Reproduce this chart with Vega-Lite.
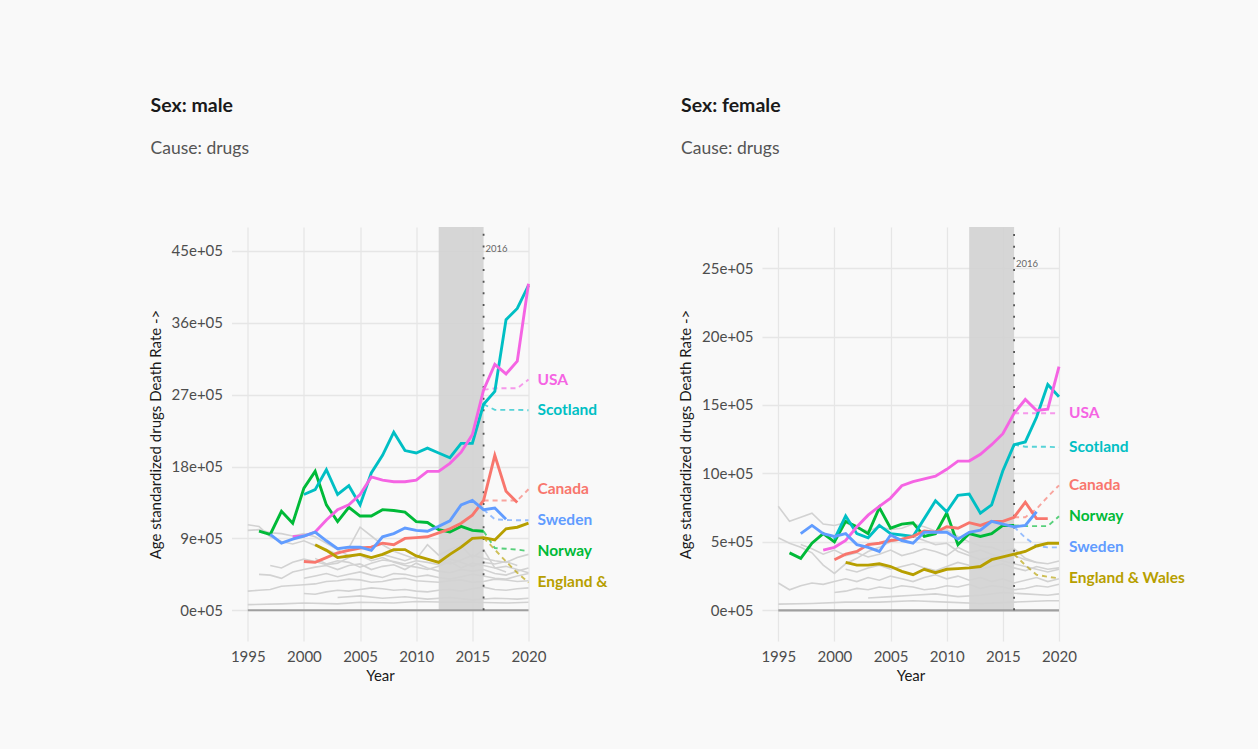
{
  "$schema": "https://vega.github.io/schema/vega-lite/v6.json",
  "background": "#f9f9f9",
  "padding": {"left": 147.5, "top": 95, "right": 78, "bottom": 70},
  "bounds": "flush",
  "spacing": 233.5,
  "config": {
    "font": "Lato",
    "view": {"stroke": null},
    "title": {"anchor": "start", "frame": "bounds", "fontSize": 19.5, "fontWeight": "bold", "color": "#1a1a1a", "subtitleFontSize": 17.5, "subtitleColor": "#555555", "subtitlePadding": 23.5, "offset": 68, "dx": 2.5},
    "axis": {"grid": true, "gridColor": "#e6e6e6", "gridWidth": 1.3, "domain": false, "ticks": false, "labelFlush": false, "labelFontSize": 15, "labelColor": "#4d4d4d", "titleFontSize": 15, "titleFontWeight": "normal", "titleColor": "#1a1a1a"}
  },
  "datasets": {
    "band": [
      {"sex": "male", "year": 2012, "year_end": 2016, "rate": 0, "rate_top": 4800000},
      {"sex": "female", "year": 2012, "year_end": 2016, "rate": 0, "rate_top": 2800000}
    ],
    "marker": [
      {"sex": "male", "year": 2016, "rate": 0, "rate_top": 4800000, "note": "2016", "note_rate": 4530000},
      {"sex": "female", "year": 2016, "rate": 0, "rate_top": 2800000, "note": "2016", "note_rate": 2530000}
    ],
    "baseline": [
      {"sex": "male", "year": 1995, "rate": 0}, {"sex": "male", "year": 2020, "rate": 0},
      {"sex": "female", "year": 1995, "rate": 0}, {"sex": "female", "year": 2020, "rate": 0}
    ],
    "others": [
      {"sex":"male","group":"g1","year":1995,"rate":1070000},{"sex":"male","group":"g1","year":1996,"rate":1050000},{"sex":"male","group":"g1","year":1997,"rate":920000},{"sex":"male","group":"g1","year":1998,"rate":860000},{"sex":"male","group":"g1","year":1999,"rate":830000},{"sex":"male","group":"g1","year":2000,"rate":870000},{"sex":"male","group":"g1","year":2001,"rate":810000},{"sex":"male","group":"g1","year":2002,"rate":760000},{"sex":"male","group":"g1","year":2003,"rate":700000},{"sex":"male","group":"g1","year":2004,"rate":780000},{"sex":"male","group":"g1","year":2005,"rate":1040000},{"sex":"male","group":"g1","year":2006,"rate":930000},{"sex":"male","group":"g1","year":2007,"rate":820000},{"sex":"male","group":"g1","year":2008,"rate":740000},{"sex":"male","group":"g1","year":2009,"rate":690000},{"sex":"male","group":"g1","year":2010,"rate":640000},{"sex":"male","group":"g1","year":2011,"rate":820000},{"sex":"male","group":"g1","year":2012,"rate":690000},{"sex":"male","group":"g1","year":2013,"rate":760000},{"sex":"male","group":"g1","year":2014,"rate":810000},{"sex":"male","group":"g1","year":2015,"rate":660000},{"sex":"male","group":"g1","year":2016,"rate":760000},{"sex":"male","group":"g1","year":2017,"rate":530000},{"sex":"male","group":"g1","year":2018,"rate":480000},
      {"sex":"male","group":"g2","year":1995,"rate":1000000},{"sex":"male","group":"g2","year":1996,"rate":1010000},{"sex":"male","group":"g2","year":1997,"rate":970000},{"sex":"male","group":"g2","year":1998,"rate":960000},{"sex":"male","group":"g2","year":1999,"rate":930000},{"sex":"male","group":"g2","year":2000,"rate":960000},{"sex":"male","group":"g2","year":2001,"rate":920000},{"sex":"male","group":"g2","year":2002,"rate":840000},{"sex":"male","group":"g2","year":2003,"rate":760000},{"sex":"male","group":"g2","year":2004,"rate":680000},{"sex":"male","group":"g2","year":2005,"rate":690000},{"sex":"male","group":"g2","year":2006,"rate":620000},{"sex":"male","group":"g2","year":2007,"rate":660000},{"sex":"male","group":"g2","year":2008,"rate":600000},{"sex":"male","group":"g2","year":2009,"rate":560000},{"sex":"male","group":"g2","year":2010,"rate":540000},{"sex":"male","group":"g2","year":2011,"rate":510000},{"sex":"male","group":"g2","year":2012,"rate":550000},{"sex":"male","group":"g2","year":2013,"rate":610000},{"sex":"male","group":"g2","year":2014,"rate":530000},{"sex":"male","group":"g2","year":2015,"rate":590000},{"sex":"male","group":"g2","year":2016,"rate":560000},{"sex":"male","group":"g2","year":2017,"rate":530000},{"sex":"male","group":"g2","year":2018,"rate":550000},{"sex":"male","group":"g2","year":2019,"rate":510000},{"sex":"male","group":"g2","year":2020,"rate":470000},
      {"sex":"male","group":"g3","year":1996,"rate":450000},{"sex":"male","group":"g3","year":1997,"rate":440000},{"sex":"male","group":"g3","year":1998,"rate":400000},{"sex":"male","group":"g3","year":1999,"rate":480000},{"sex":"male","group":"g3","year":2000,"rate":510000},{"sex":"male","group":"g3","year":2001,"rate":540000},{"sex":"male","group":"g3","year":2002,"rate":560000},{"sex":"male","group":"g3","year":2003,"rate":510000},{"sex":"male","group":"g3","year":2004,"rate":560000},{"sex":"male","group":"g3","year":2005,"rate":580000},{"sex":"male","group":"g3","year":2006,"rate":510000},{"sex":"male","group":"g3","year":2007,"rate":550000},{"sex":"male","group":"g3","year":2008,"rate":570000},{"sex":"male","group":"g3","year":2009,"rate":510000},{"sex":"male","group":"g3","year":2010,"rate":590000},{"sex":"male","group":"g3","year":2011,"rate":530000},{"sex":"male","group":"g3","year":2012,"rate":490000},{"sex":"male","group":"g3","year":2013,"rate":470000},{"sex":"male","group":"g3","year":2014,"rate":510000},{"sex":"male","group":"g3","year":2015,"rate":490000},{"sex":"male","group":"g3","year":2016,"rate":510000},{"sex":"male","group":"g3","year":2017,"rate":460000},{"sex":"male","group":"g3","year":2018,"rate":440000},{"sex":"male","group":"g3","year":2019,"rate":490000},{"sex":"male","group":"g3","year":2020,"rate":530000},
      {"sex":"male","group":"g4","year":1995,"rate":240000},{"sex":"male","group":"g4","year":1996,"rate":250000},{"sex":"male","group":"g4","year":1997,"rate":260000},{"sex":"male","group":"g4","year":1998,"rate":300000},{"sex":"male","group":"g4","year":1999,"rate":310000},{"sex":"male","group":"g4","year":2000,"rate":320000},{"sex":"male","group":"g4","year":2001,"rate":330000},{"sex":"male","group":"g4","year":2002,"rate":360000},{"sex":"male","group":"g4","year":2003,"rate":370000},{"sex":"male","group":"g4","year":2004,"rate":390000},{"sex":"male","group":"g4","year":2005,"rate":380000},{"sex":"male","group":"g4","year":2006,"rate":350000},{"sex":"male","group":"g4","year":2007,"rate":360000},{"sex":"male","group":"g4","year":2008,"rate":390000},{"sex":"male","group":"g4","year":2009,"rate":400000},{"sex":"male","group":"g4","year":2010,"rate":370000},{"sex":"male","group":"g4","year":2011,"rate":360000},{"sex":"male","group":"g4","year":2012,"rate":350000},{"sex":"male","group":"g4","year":2013,"rate":370000},{"sex":"male","group":"g4","year":2014,"rate":380000},{"sex":"male","group":"g4","year":2015,"rate":350000},{"sex":"male","group":"g4","year":2016,"rate":360000},{"sex":"male","group":"g4","year":2017,"rate":390000},{"sex":"male","group":"g4","year":2018,"rate":380000},{"sex":"male","group":"g4","year":2019,"rate":360000},{"sex":"male","group":"g4","year":2020,"rate":370000},
      {"sex":"male","group":"g5","year":1995,"rate":70000},{"sex":"male","group":"g5","year":1998,"rate":80000},{"sex":"male","group":"g5","year":2000,"rate":90000},{"sex":"male","group":"g5","year":2003,"rate":80000},{"sex":"male","group":"g5","year":2005,"rate":100000},{"sex":"male","group":"g5","year":2008,"rate":90000},{"sex":"male","group":"g5","year":2010,"rate":110000},{"sex":"male","group":"g5","year":2013,"rate":100000},{"sex":"male","group":"g5","year":2015,"rate":100000},{"sex":"male","group":"g5","year":2018,"rate":90000},{"sex":"male","group":"g5","year":2020,"rate":100000},
      {"sex":"male","group":"g6","year":2000,"rate":210000},{"sex":"male","group":"g6","year":2001,"rate":200000},{"sex":"male","group":"g6","year":2002,"rate":230000},{"sex":"male","group":"g6","year":2003,"rate":250000},{"sex":"male","group":"g6","year":2004,"rate":240000},{"sex":"male","group":"g6","year":2005,"rate":260000},{"sex":"male","group":"g6","year":2006,"rate":280000},{"sex":"male","group":"g6","year":2007,"rate":270000},{"sex":"male","group":"g6","year":2008,"rate":250000},{"sex":"male","group":"g6","year":2009,"rate":260000},{"sex":"male","group":"g6","year":2010,"rate":240000},{"sex":"male","group":"g6","year":2011,"rate":230000},{"sex":"male","group":"g6","year":2012,"rate":250000},{"sex":"male","group":"g6","year":2013,"rate":260000},{"sex":"male","group":"g6","year":2014,"rate":240000},{"sex":"male","group":"g6","year":2015,"rate":270000},{"sex":"male","group":"g6","year":2016,"rate":290000},{"sex":"male","group":"g6","year":2017,"rate":260000},{"sex":"male","group":"g6","year":2018,"rate":250000},{"sex":"male","group":"g6","year":2019,"rate":270000},{"sex":"male","group":"g6","year":2020,"rate":280000},
      {"sex":"male","group":"g7","year":2000,"rate":400000},{"sex":"male","group":"g7","year":2001,"rate":430000},{"sex":"male","group":"g7","year":2002,"rate":460000},{"sex":"male","group":"g7","year":2003,"rate":420000},{"sex":"male","group":"g7","year":2004,"rate":450000},{"sex":"male","group":"g7","year":2005,"rate":480000},{"sex":"male","group":"g7","year":2006,"rate":440000},{"sex":"male","group":"g7","year":2007,"rate":410000},{"sex":"male","group":"g7","year":2008,"rate":460000},{"sex":"male","group":"g7","year":2009,"rate":450000},{"sex":"male","group":"g7","year":2010,"rate":420000},{"sex":"male","group":"g7","year":2011,"rate":440000},{"sex":"male","group":"g7","year":2012,"rate":410000},{"sex":"male","group":"g7","year":2013,"rate":390000},{"sex":"male","group":"g7","year":2014,"rate":420000},{"sex":"male","group":"g7","year":2015,"rate":450000},{"sex":"male","group":"g7","year":2016,"rate":430000},{"sex":"male","group":"g7","year":2017,"rate":400000},{"sex":"male","group":"g7","year":2018,"rate":390000},{"sex":"male","group":"g7","year":2019,"rate":430000},{"sex":"male","group":"g7","year":2020,"rate":460000},
      {"sex":"male","group":"g8","year":2001,"rate":650000},{"sex":"male","group":"g8","year":2002,"rate":580000},{"sex":"male","group":"g8","year":2003,"rate":620000},{"sex":"male","group":"g8","year":2004,"rate":600000},{"sex":"male","group":"g8","year":2005,"rate":540000},{"sex":"male","group":"g8","year":2006,"rate":590000},{"sex":"male","group":"g8","year":2007,"rate":630000},{"sex":"male","group":"g8","year":2008,"rate":610000},{"sex":"male","group":"g8","year":2009,"rate":580000},{"sex":"male","group":"g8","year":2010,"rate":620000},{"sex":"male","group":"g8","year":2011,"rate":600000},{"sex":"male","group":"g8","year":2012,"rate":570000},{"sex":"male","group":"g8","year":2013,"rate":640000},{"sex":"male","group":"g8","year":2014,"rate":600000},{"sex":"male","group":"g8","year":2015,"rate":550000},{"sex":"male","group":"g8","year":2016,"rate":600000},{"sex":"male","group":"g8","year":2017,"rate":580000},{"sex":"male","group":"g8","year":2018,"rate":610000},{"sex":"male","group":"g8","year":2019,"rate":560000},
      {"sex":"male","group":"g9","year":2003,"rate":160000},{"sex":"male","group":"g9","year":2005,"rate":180000},{"sex":"male","group":"g9","year":2007,"rate":150000},{"sex":"male","group":"g9","year":2009,"rate":170000},{"sex":"male","group":"g9","year":2011,"rate":140000},{"sex":"male","group":"g9","year":2013,"rate":160000},{"sex":"male","group":"g9","year":2015,"rate":130000},{"sex":"male","group":"g9","year":2017,"rate":150000},{"sex":"male","group":"g9","year":2019,"rate":140000},{"sex":"male","group":"g9","year":2020,"rate":150000},
      {"sex":"male","group":"g10","year":1997,"rate":560000},{"sex":"male","group":"g10","year":1998,"rate":530000},{"sex":"male","group":"g10","year":1999,"rate":600000},{"sex":"male","group":"g10","year":2000,"rate":640000},{"sex":"male","group":"g10","year":2001,"rate":610000},{"sex":"male","group":"g10","year":2002,"rate":570000},{"sex":"male","group":"g10","year":2003,"rate":590000},{"sex":"male","group":"g10","year":2004,"rate":660000},{"sex":"male","group":"g10","year":2005,"rate":710000},{"sex":"male","group":"g10","year":2006,"rate":650000},{"sex":"male","group":"g10","year":2007,"rate":700000},{"sex":"male","group":"g10","year":2008,"rate":660000},{"sex":"male","group":"g10","year":2009,"rate":620000},{"sex":"male","group":"g10","year":2010,"rate":670000},{"sex":"male","group":"g10","year":2011,"rate":640000},{"sex":"male","group":"g10","year":2012,"rate":610000},{"sex":"male","group":"g10","year":2013,"rate":580000},{"sex":"male","group":"g10","year":2014,"rate":630000},{"sex":"male","group":"g10","year":2015,"rate":690000},{"sex":"male","group":"g10","year":2016,"rate":650000},{"sex":"male","group":"g10","year":2017,"rate":620000},{"sex":"male","group":"g10","year":2018,"rate":600000},{"sex":"male","group":"g10","year":2019,"rate":660000},{"sex":"male","group":"g10","year":2020,"rate":700000},
      {"sex":"female","group":"g1","year":1995,"rate":760000},{"sex":"female","group":"g1","year":1996,"rate":650000},{"sex":"female","group":"g1","year":1997,"rate":680000},{"sex":"female","group":"g1","year":1998,"rate":710000},{"sex":"female","group":"g1","year":1999,"rate":630000},{"sex":"female","group":"g1","year":2000,"rate":620000},{"sex":"female","group":"g1","year":2001,"rate":640000},{"sex":"female","group":"g1","year":2002,"rate":600000},{"sex":"female","group":"g1","year":2003,"rate":580000},{"sex":"female","group":"g1","year":2004,"rate":610000},{"sex":"female","group":"g1","year":2005,"rate":590000},{"sex":"female","group":"g1","year":2006,"rate":600000},{"sex":"female","group":"g1","year":2007,"rate":630000},{"sex":"female","group":"g1","year":2008,"rate":610000},{"sex":"female","group":"g1","year":2009,"rate":580000},{"sex":"female","group":"g1","year":2010,"rate":590000},{"sex":"female","group":"g1","year":2011,"rate":540000},{"sex":"female","group":"g1","year":2012,"rate":500000},{"sex":"female","group":"g1","year":2013,"rate":470000},{"sex":"female","group":"g1","year":2014,"rate":460000},{"sex":"female","group":"g1","year":2015,"rate":430000},{"sex":"female","group":"g1","year":2016,"rate":450000},{"sex":"female","group":"g1","year":2017,"rate":380000},{"sex":"female","group":"g1","year":2018,"rate":350000},
      {"sex":"female","group":"g2","year":1995,"rate":530000},{"sex":"female","group":"g2","year":1996,"rate":490000},{"sex":"female","group":"g2","year":1997,"rate":460000},{"sex":"female","group":"g2","year":1998,"rate":420000},{"sex":"female","group":"g2","year":1999,"rate":330000},{"sex":"female","group":"g2","year":2000,"rate":270000},{"sex":"female","group":"g2","year":2001,"rate":340000},{"sex":"female","group":"g2","year":2002,"rate":380000},{"sex":"female","group":"g2","year":2003,"rate":430000},{"sex":"female","group":"g2","year":2004,"rate":460000},{"sex":"female","group":"g2","year":2005,"rate":500000},{"sex":"female","group":"g2","year":2006,"rate":520000},{"sex":"female","group":"g2","year":2007,"rate":540000},{"sex":"female","group":"g2","year":2008,"rate":510000},{"sex":"female","group":"g2","year":2009,"rate":480000},{"sex":"female","group":"g2","year":2010,"rate":490000},{"sex":"female","group":"g2","year":2011,"rate":430000},{"sex":"female","group":"g2","year":2012,"rate":400000},{"sex":"female","group":"g2","year":2013,"rate":370000},{"sex":"female","group":"g2","year":2014,"rate":390000},{"sex":"female","group":"g2","year":2015,"rate":360000},{"sex":"female","group":"g2","year":2016,"rate":340000},{"sex":"female","group":"g2","year":2017,"rate":320000},{"sex":"female","group":"g2","year":2018,"rate":300000},{"sex":"female","group":"g2","year":2019,"rate":280000},{"sex":"female","group":"g2","year":2020,"rate":300000},
      {"sex":"female","group":"g3","year":1995,"rate":200000},{"sex":"female","group":"g3","year":1996,"rate":150000},{"sex":"female","group":"g3","year":1997,"rate":180000},{"sex":"female","group":"g3","year":1998,"rate":200000},{"sex":"female","group":"g3","year":1999,"rate":190000},{"sex":"female","group":"g3","year":2000,"rate":210000},{"sex":"female","group":"g3","year":2001,"rate":230000},{"sex":"female","group":"g3","year":2002,"rate":210000},{"sex":"female","group":"g3","year":2003,"rate":240000},{"sex":"female","group":"g3","year":2004,"rate":220000},{"sex":"female","group":"g3","year":2005,"rate":250000},{"sex":"female","group":"g3","year":2006,"rate":230000},{"sex":"female","group":"g3","year":2007,"rate":210000},{"sex":"female","group":"g3","year":2008,"rate":240000},{"sex":"female","group":"g3","year":2009,"rate":260000},{"sex":"female","group":"g3","year":2010,"rate":230000},{"sex":"female","group":"g3","year":2011,"rate":250000},{"sex":"female","group":"g3","year":2012,"rate":220000},{"sex":"female","group":"g3","year":2013,"rate":240000},{"sex":"female","group":"g3","year":2014,"rate":210000},{"sex":"female","group":"g3","year":2015,"rate":230000},{"sex":"female","group":"g3","year":2016,"rate":200000},{"sex":"female","group":"g3","year":2017,"rate":220000},{"sex":"female","group":"g3","year":2018,"rate":240000},{"sex":"female","group":"g3","year":2019,"rate":210000},{"sex":"female","group":"g3","year":2020,"rate":230000},
      {"sex":"female","group":"g4","year":1995,"rate":45000},{"sex":"female","group":"g4","year":1998,"rate":50000},{"sex":"female","group":"g4","year":2001,"rate":60000},{"sex":"female","group":"g4","year":2004,"rate":60000},{"sex":"female","group":"g4","year":2007,"rate":70000},{"sex":"female","group":"g4","year":2010,"rate":60000},{"sex":"female","group":"g4","year":2013,"rate":50000},{"sex":"female","group":"g4","year":2016,"rate":60000},{"sex":"female","group":"g4","year":2019,"rate":70000},{"sex":"female","group":"g4","year":2020,"rate":70000},
      {"sex":"female","group":"g5","year":1997,"rate":480000},{"sex":"female","group":"g5","year":1998,"rate":450000},{"sex":"female","group":"g5","year":1999,"rate":410000},{"sex":"female","group":"g5","year":2000,"rate":440000},{"sex":"female","group":"g5","year":2001,"rate":400000},{"sex":"female","group":"g5","year":2002,"rate":420000},{"sex":"female","group":"g5","year":2003,"rate":390000},{"sex":"female","group":"g5","year":2004,"rate":410000},{"sex":"female","group":"g5","year":2005,"rate":440000},{"sex":"female","group":"g5","year":2006,"rate":400000},{"sex":"female","group":"g5","year":2007,"rate":420000},{"sex":"female","group":"g5","year":2008,"rate":450000},{"sex":"female","group":"g5","year":2009,"rate":430000},{"sex":"female","group":"g5","year":2010,"rate":400000},{"sex":"female","group":"g5","year":2011,"rate":460000},{"sex":"female","group":"g5","year":2012,"rate":420000},{"sex":"female","group":"g5","year":2013,"rate":440000},{"sex":"female","group":"g5","year":2014,"rate":410000},{"sex":"female","group":"g5","year":2015,"rate":380000},{"sex":"female","group":"g5","year":2016,"rate":400000},{"sex":"female","group":"g5","year":2017,"rate":370000},{"sex":"female","group":"g5","year":2018,"rate":350000},{"sex":"female","group":"g5","year":2019,"rate":340000},{"sex":"female","group":"g5","year":2020,"rate":360000},
      {"sex":"female","group":"g6","year":2000,"rate":130000},{"sex":"female","group":"g6","year":2001,"rate":140000},{"sex":"female","group":"g6","year":2002,"rate":160000},{"sex":"female","group":"g6","year":2003,"rate":150000},{"sex":"female","group":"g6","year":2004,"rate":170000},{"sex":"female","group":"g6","year":2005,"rate":160000},{"sex":"female","group":"g6","year":2006,"rate":180000},{"sex":"female","group":"g6","year":2007,"rate":170000},{"sex":"female","group":"g6","year":2008,"rate":150000},{"sex":"female","group":"g6","year":2009,"rate":160000},{"sex":"female","group":"g6","year":2010,"rate":180000},{"sex":"female","group":"g6","year":2011,"rate":170000},{"sex":"female","group":"g6","year":2012,"rate":190000},{"sex":"female","group":"g6","year":2013,"rate":160000},{"sex":"female","group":"g6","year":2014,"rate":180000},{"sex":"female","group":"g6","year":2015,"rate":170000},{"sex":"female","group":"g6","year":2016,"rate":150000},{"sex":"female","group":"g6","year":2017,"rate":160000},{"sex":"female","group":"g6","year":2018,"rate":180000},{"sex":"female","group":"g6","year":2019,"rate":170000},{"sex":"female","group":"g6","year":2020,"rate":190000},
      {"sex":"female","group":"g7","year":2001,"rate":300000},{"sex":"female","group":"g7","year":2002,"rate":280000},{"sex":"female","group":"g7","year":2003,"rate":310000},{"sex":"female","group":"g7","year":2004,"rate":330000},{"sex":"female","group":"g7","year":2005,"rate":300000},{"sex":"female","group":"g7","year":2006,"rate":320000},{"sex":"female","group":"g7","year":2007,"rate":340000},{"sex":"female","group":"g7","year":2008,"rate":310000},{"sex":"female","group":"g7","year":2009,"rate":290000},{"sex":"female","group":"g7","year":2010,"rate":320000},{"sex":"female","group":"g7","year":2011,"rate":350000},{"sex":"female","group":"g7","year":2012,"rate":330000},{"sex":"female","group":"g7","year":2013,"rate":300000},{"sex":"female","group":"g7","year":2014,"rate":320000},{"sex":"female","group":"g7","year":2015,"rate":340000},{"sex":"female","group":"g7","year":2016,"rate":310000},{"sex":"female","group":"g7","year":2017,"rate":290000},{"sex":"female","group":"g7","year":2018,"rate":320000},{"sex":"female","group":"g7","year":2019,"rate":300000},{"sex":"female","group":"g7","year":2020,"rate":310000},
      {"sex":"female","group":"g8","year":2003,"rate":90000},{"sex":"female","group":"g8","year":2005,"rate":100000},{"sex":"female","group":"g8","year":2007,"rate":110000},{"sex":"female","group":"g8","year":2009,"rate":120000},{"sex":"female","group":"g8","year":2011,"rate":100000},{"sex":"female","group":"g8","year":2013,"rate":110000},{"sex":"female","group":"g8","year":2015,"rate":130000},{"sex":"female","group":"g8","year":2017,"rate":120000},{"sex":"female","group":"g8","year":2019,"rate":110000},{"sex":"female","group":"g8","year":2020,"rate":120000}
    ],
    "rates": [
      {"sex":"male","country":"Norway","year":1996,"rate":990000},{"sex":"male","country":"Norway","year":1997,"rate":950000},{"sex":"male","country":"Norway","year":1998,"rate":1240000},{"sex":"male","country":"Norway","year":1999,"rate":1090000},{"sex":"male","country":"Norway","year":2000,"rate":1530000},{"sex":"male","country":"Norway","year":2001,"rate":1740000},{"sex":"male","country":"Norway","year":2002,"rate":1320000},{"sex":"male","country":"Norway","year":2003,"rate":1110000},{"sex":"male","country":"Norway","year":2004,"rate":1290000},{"sex":"male","country":"Norway","year":2005,"rate":1180000},{"sex":"male","country":"Norway","year":2006,"rate":1180000},{"sex":"male","country":"Norway","year":2007,"rate":1260000},{"sex":"male","country":"Norway","year":2008,"rate":1250000},{"sex":"male","country":"Norway","year":2009,"rate":1230000},{"sex":"male","country":"Norway","year":2010,"rate":1110000},{"sex":"male","country":"Norway","year":2011,"rate":1100000},{"sex":"male","country":"Norway","year":2012,"rate":1010000},{"sex":"male","country":"Norway","year":2013,"rate":980000},{"sex":"male","country":"Norway","year":2014,"rate":1050000},{"sex":"male","country":"Norway","year":2015,"rate":1000000},{"sex":"male","country":"Norway","year":2016,"rate":990000},
      {"sex":"male","country":"Scotland","year":2000,"rate":1450000},{"sex":"male","country":"Scotland","year":2001,"rate":1510000},{"sex":"male","country":"Scotland","year":2002,"rate":1760000},{"sex":"male","country":"Scotland","year":2003,"rate":1450000},{"sex":"male","country":"Scotland","year":2004,"rate":1560000},{"sex":"male","country":"Scotland","year":2005,"rate":1320000},{"sex":"male","country":"Scotland","year":2006,"rate":1720000},{"sex":"male","country":"Scotland","year":2007,"rate":1940000},{"sex":"male","country":"Scotland","year":2008,"rate":2230000},{"sex":"male","country":"Scotland","year":2009,"rate":2000000},{"sex":"male","country":"Scotland","year":2010,"rate":1970000},{"sex":"male","country":"Scotland","year":2011,"rate":2030000},{"sex":"male","country":"Scotland","year":2012,"rate":1970000},{"sex":"male","country":"Scotland","year":2013,"rate":1910000},{"sex":"male","country":"Scotland","year":2014,"rate":2090000},{"sex":"male","country":"Scotland","year":2015,"rate":2090000},{"sex":"male","country":"Scotland","year":2016,"rate":2580000},{"sex":"male","country":"Scotland","year":2017,"rate":2740000},{"sex":"male","country":"Scotland","year":2018,"rate":3640000},{"sex":"male","country":"Scotland","year":2019,"rate":3780000},{"sex":"male","country":"Scotland","year":2020,"rate":4070000},
      {"sex":"male","country":"USA","year":1999,"rate":920000},{"sex":"male","country":"USA","year":2000,"rate":930000},{"sex":"male","country":"USA","year":2001,"rate":980000},{"sex":"male","country":"USA","year":2002,"rate":1130000},{"sex":"male","country":"USA","year":2003,"rate":1260000},{"sex":"male","country":"USA","year":2004,"rate":1320000},{"sex":"male","country":"USA","year":2005,"rate":1450000},{"sex":"male","country":"USA","year":2006,"rate":1670000},{"sex":"male","country":"USA","year":2007,"rate":1630000},{"sex":"male","country":"USA","year":2008,"rate":1610000},{"sex":"male","country":"USA","year":2009,"rate":1610000},{"sex":"male","country":"USA","year":2010,"rate":1630000},{"sex":"male","country":"USA","year":2011,"rate":1740000},{"sex":"male","country":"USA","year":2012,"rate":1740000},{"sex":"male","country":"USA","year":2013,"rate":1840000},{"sex":"male","country":"USA","year":2014,"rate":1980000},{"sex":"male","country":"USA","year":2015,"rate":2200000},{"sex":"male","country":"USA","year":2016,"rate":2760000},{"sex":"male","country":"USA","year":2017,"rate":3080000},{"sex":"male","country":"USA","year":2018,"rate":2960000},{"sex":"male","country":"USA","year":2019,"rate":3120000},{"sex":"male","country":"USA","year":2020,"rate":4090000},
      {"sex":"male","country":"Canada","year":2000,"rate":610000},{"sex":"male","country":"Canada","year":2001,"rate":600000},{"sex":"male","country":"Canada","year":2002,"rate":660000},{"sex":"male","country":"Canada","year":2003,"rate":720000},{"sex":"male","country":"Canada","year":2004,"rate":750000},{"sex":"male","country":"Canada","year":2005,"rate":780000},{"sex":"male","country":"Canada","year":2006,"rate":790000},{"sex":"male","country":"Canada","year":2007,"rate":840000},{"sex":"male","country":"Canada","year":2008,"rate":820000},{"sex":"male","country":"Canada","year":2009,"rate":900000},{"sex":"male","country":"Canada","year":2010,"rate":910000},{"sex":"male","country":"Canada","year":2011,"rate":920000},{"sex":"male","country":"Canada","year":2012,"rate":970000},{"sex":"male","country":"Canada","year":2013,"rate":1020000},{"sex":"male","country":"Canada","year":2014,"rate":1090000},{"sex":"male","country":"Canada","year":2015,"rate":1190000},{"sex":"male","country":"Canada","year":2016,"rate":1375000},{"sex":"male","country":"Canada","year":2017,"rate":1940000},{"sex":"male","country":"Canada","year":2018,"rate":1490000},{"sex":"male","country":"Canada","year":2019,"rate":1350000},
      {"sex":"male","country":"Sweden","year":1997,"rate":950000},{"sex":"male","country":"Sweden","year":1998,"rate":840000},{"sex":"male","country":"Sweden","year":1999,"rate":890000},{"sex":"male","country":"Sweden","year":2000,"rate":930000},{"sex":"male","country":"Sweden","year":2001,"rate":980000},{"sex":"male","country":"Sweden","year":2002,"rate":870000},{"sex":"male","country":"Sweden","year":2003,"rate":770000},{"sex":"male","country":"Sweden","year":2004,"rate":790000},{"sex":"male","country":"Sweden","year":2005,"rate":790000},{"sex":"male","country":"Sweden","year":2006,"rate":750000},{"sex":"male","country":"Sweden","year":2007,"rate":920000},{"sex":"male","country":"Sweden","year":2008,"rate":960000},{"sex":"male","country":"Sweden","year":2009,"rate":1030000},{"sex":"male","country":"Sweden","year":2010,"rate":1000000},{"sex":"male","country":"Sweden","year":2011,"rate":990000},{"sex":"male","country":"Sweden","year":2012,"rate":1050000},{"sex":"male","country":"Sweden","year":2013,"rate":1120000},{"sex":"male","country":"Sweden","year":2014,"rate":1320000},{"sex":"male","country":"Sweden","year":2015,"rate":1375000},{"sex":"male","country":"Sweden","year":2016,"rate":1260000},{"sex":"male","country":"Sweden","year":2017,"rate":1280000},{"sex":"male","country":"Sweden","year":2018,"rate":1140000},
      {"sex":"male","country":"England & Wales","year":2001,"rate":820000},{"sex":"male","country":"England & Wales","year":2002,"rate":750000},{"sex":"male","country":"England & Wales","year":2003,"rate":660000},{"sex":"male","country":"England & Wales","year":2004,"rate":680000},{"sex":"male","country":"England & Wales","year":2005,"rate":700000},{"sex":"male","country":"England & Wales","year":2006,"rate":660000},{"sex":"male","country":"England & Wales","year":2007,"rate":700000},{"sex":"male","country":"England & Wales","year":2008,"rate":760000},{"sex":"male","country":"England & Wales","year":2009,"rate":760000},{"sex":"male","country":"England & Wales","year":2010,"rate":680000},{"sex":"male","country":"England & Wales","year":2011,"rate":640000},{"sex":"male","country":"England & Wales","year":2012,"rate":600000},{"sex":"male","country":"England & Wales","year":2013,"rate":700000},{"sex":"male","country":"England & Wales","year":2014,"rate":790000},{"sex":"male","country":"England & Wales","year":2015,"rate":900000},{"sex":"male","country":"England & Wales","year":2016,"rate":910000},{"sex":"male","country":"England & Wales","year":2017,"rate":880000},{"sex":"male","country":"England & Wales","year":2018,"rate":1020000},{"sex":"male","country":"England & Wales","year":2019,"rate":1040000},{"sex":"male","country":"England & Wales","year":2020,"rate":1090000},
      {"sex":"female","country":"Norway","year":1996,"rate":420000},{"sex":"female","country":"Norway","year":1997,"rate":380000},{"sex":"female","country":"Norway","year":1998,"rate":490000},{"sex":"female","country":"Norway","year":1999,"rate":560000},{"sex":"female","country":"Norway","year":2000,"rate":500000},{"sex":"female","country":"Norway","year":2001,"rate":650000},{"sex":"female","country":"Norway","year":2002,"rate":610000},{"sex":"female","country":"Norway","year":2003,"rate":560000},{"sex":"female","country":"Norway","year":2004,"rate":750000},{"sex":"female","country":"Norway","year":2005,"rate":600000},{"sex":"female","country":"Norway","year":2006,"rate":630000},{"sex":"female","country":"Norway","year":2007,"rate":640000},{"sex":"female","country":"Norway","year":2008,"rate":540000},{"sex":"female","country":"Norway","year":2009,"rate":560000},{"sex":"female","country":"Norway","year":2010,"rate":710000},{"sex":"female","country":"Norway","year":2011,"rate":480000},{"sex":"female","country":"Norway","year":2012,"rate":560000},{"sex":"female","country":"Norway","year":2013,"rate":540000},{"sex":"female","country":"Norway","year":2014,"rate":560000},{"sex":"female","country":"Norway","year":2015,"rate":620000},{"sex":"female","country":"Norway","year":2016,"rate":620000},
      {"sex":"female","country":"Scotland","year":2000,"rate":520000},{"sex":"female","country":"Scotland","year":2001,"rate":690000},{"sex":"female","country":"Scotland","year":2002,"rate":560000},{"sex":"female","country":"Scotland","year":2003,"rate":530000},{"sex":"female","country":"Scotland","year":2004,"rate":620000},{"sex":"female","country":"Scotland","year":2005,"rate":560000},{"sex":"female","country":"Scotland","year":2006,"rate":550000},{"sex":"female","country":"Scotland","year":2007,"rate":540000},{"sex":"female","country":"Scotland","year":2008,"rate":670000},{"sex":"female","country":"Scotland","year":2009,"rate":800000},{"sex":"female","country":"Scotland","year":2010,"rate":720000},{"sex":"female","country":"Scotland","year":2011,"rate":840000},{"sex":"female","country":"Scotland","year":2012,"rate":850000},{"sex":"female","country":"Scotland","year":2013,"rate":710000},{"sex":"female","country":"Scotland","year":2014,"rate":770000},{"sex":"female","country":"Scotland","year":2015,"rate":1020000},{"sex":"female","country":"Scotland","year":2016,"rate":1210000},{"sex":"female","country":"Scotland","year":2017,"rate":1230000},{"sex":"female","country":"Scotland","year":2018,"rate":1410000},{"sex":"female","country":"Scotland","year":2019,"rate":1650000},{"sex":"female","country":"Scotland","year":2020,"rate":1560000},
      {"sex":"female","country":"USA","year":1999,"rate":440000},{"sex":"female","country":"USA","year":2000,"rate":460000},{"sex":"female","country":"USA","year":2001,"rate":510000},{"sex":"female","country":"USA","year":2002,"rate":610000},{"sex":"female","country":"USA","year":2003,"rate":695000},{"sex":"female","country":"USA","year":2004,"rate":760000},{"sex":"female","country":"USA","year":2005,"rate":820000},{"sex":"female","country":"USA","year":2006,"rate":910000},{"sex":"female","country":"USA","year":2007,"rate":940000},{"sex":"female","country":"USA","year":2008,"rate":960000},{"sex":"female","country":"USA","year":2009,"rate":980000},{"sex":"female","country":"USA","year":2010,"rate":1030000},{"sex":"female","country":"USA","year":2011,"rate":1090000},{"sex":"female","country":"USA","year":2012,"rate":1090000},{"sex":"female","country":"USA","year":2013,"rate":1140000},{"sex":"female","country":"USA","year":2014,"rate":1210000},{"sex":"female","country":"USA","year":2015,"rate":1290000},{"sex":"female","country":"USA","year":2016,"rate":1440000},{"sex":"female","country":"USA","year":2017,"rate":1540000},{"sex":"female","country":"USA","year":2018,"rate":1460000},{"sex":"female","country":"USA","year":2019,"rate":1470000},{"sex":"female","country":"USA","year":2020,"rate":1780000},
      {"sex":"female","country":"Canada","year":2000,"rate":370000},{"sex":"female","country":"Canada","year":2001,"rate":410000},{"sex":"female","country":"Canada","year":2002,"rate":430000},{"sex":"female","country":"Canada","year":2003,"rate":480000},{"sex":"female","country":"Canada","year":2004,"rate":490000},{"sex":"female","country":"Canada","year":2005,"rate":510000},{"sex":"female","country":"Canada","year":2006,"rate":520000},{"sex":"female","country":"Canada","year":2007,"rate":540000},{"sex":"female","country":"Canada","year":2008,"rate":580000},{"sex":"female","country":"Canada","year":2009,"rate":570000},{"sex":"female","country":"Canada","year":2010,"rate":610000},{"sex":"female","country":"Canada","year":2011,"rate":600000},{"sex":"female","country":"Canada","year":2012,"rate":640000},{"sex":"female","country":"Canada","year":2013,"rate":620000},{"sex":"female","country":"Canada","year":2014,"rate":650000},{"sex":"female","country":"Canada","year":2015,"rate":650000},{"sex":"female","country":"Canada","year":2016,"rate":680000},{"sex":"female","country":"Canada","year":2017,"rate":790000},{"sex":"female","country":"Canada","year":2018,"rate":670000},{"sex":"female","country":"Canada","year":2019,"rate":670000},
      {"sex":"female","country":"Sweden","year":1997,"rate":560000},{"sex":"female","country":"Sweden","year":1998,"rate":620000},{"sex":"female","country":"Sweden","year":1999,"rate":560000},{"sex":"female","country":"Sweden","year":2000,"rate":540000},{"sex":"female","country":"Sweden","year":2001,"rate":560000},{"sex":"female","country":"Sweden","year":2002,"rate":480000},{"sex":"female","country":"Sweden","year":2003,"rate":460000},{"sex":"female","country":"Sweden","year":2004,"rate":430000},{"sex":"female","country":"Sweden","year":2005,"rate":550000},{"sex":"female","country":"Sweden","year":2006,"rate":510000},{"sex":"female","country":"Sweden","year":2007,"rate":490000},{"sex":"female","country":"Sweden","year":2008,"rate":570000},{"sex":"female","country":"Sweden","year":2009,"rate":570000},{"sex":"female","country":"Sweden","year":2010,"rate":570000},{"sex":"female","country":"Sweden","year":2011,"rate":520000},{"sex":"female","country":"Sweden","year":2012,"rate":570000},{"sex":"female","country":"Sweden","year":2013,"rate":585000},{"sex":"female","country":"Sweden","year":2014,"rate":650000},{"sex":"female","country":"Sweden","year":2015,"rate":630000},{"sex":"female","country":"Sweden","year":2016,"rate":610000},{"sex":"female","country":"Sweden","year":2017,"rate":620000},{"sex":"female","country":"Sweden","year":2018,"rate":720000},
      {"sex":"female","country":"England & Wales","year":2001,"rate":350000},{"sex":"female","country":"England & Wales","year":2002,"rate":330000},{"sex":"female","country":"England & Wales","year":2003,"rate":330000},{"sex":"female","country":"England & Wales","year":2004,"rate":340000},{"sex":"female","country":"England & Wales","year":2005,"rate":320000},{"sex":"female","country":"England & Wales","year":2006,"rate":285000},{"sex":"female","country":"England & Wales","year":2007,"rate":260000},{"sex":"female","country":"England & Wales","year":2008,"rate":300000},{"sex":"female","country":"England & Wales","year":2009,"rate":275000},{"sex":"female","country":"England & Wales","year":2010,"rate":300000},{"sex":"female","country":"England & Wales","year":2011,"rate":305000},{"sex":"female","country":"England & Wales","year":2012,"rate":310000},{"sex":"female","country":"England & Wales","year":2013,"rate":320000},{"sex":"female","country":"England & Wales","year":2014,"rate":370000},{"sex":"female","country":"England & Wales","year":2015,"rate":390000},{"sex":"female","country":"England & Wales","year":2016,"rate":410000},{"sex":"female","country":"England & Wales","year":2017,"rate":430000},{"sex":"female","country":"England & Wales","year":2018,"rate":470000},{"sex":"female","country":"England & Wales","year":2019,"rate":490000},{"sex":"female","country":"England & Wales","year":2020,"rate":490000}
    ],
    "projected": [
      {"sex":"male","country":"USA","year":2016,"rate":2760000},{"sex":"male","country":"USA","year":2017,"rate":2780000},{"sex":"male","country":"USA","year":2018,"rate":2780000},{"sex":"male","country":"USA","year":2019,"rate":2780000},{"sex":"male","country":"USA","year":2020,"rate":2890000},
      {"sex":"male","country":"Scotland","year":2016,"rate":2580000},{"sex":"male","country":"Scotland","year":2017,"rate":2510000},{"sex":"male","country":"Scotland","year":2018,"rate":2510000},{"sex":"male","country":"Scotland","year":2019,"rate":2510000},{"sex":"male","country":"Scotland","year":2020,"rate":2505000},
      {"sex":"male","country":"Canada","year":2016,"rate":1375000},{"sex":"male","country":"Canada","year":2017,"rate":1375000},{"sex":"male","country":"Canada","year":2018,"rate":1375000},{"sex":"male","country":"Canada","year":2019,"rate":1375000},{"sex":"male","country":"Canada","year":2020,"rate":1515000},
      {"sex":"male","country":"Sweden","year":2016,"rate":1260000},{"sex":"male","country":"Sweden","year":2017,"rate":1140000},{"sex":"male","country":"Sweden","year":2018,"rate":1130000},{"sex":"male","country":"Sweden","year":2019,"rate":1127000},{"sex":"male","country":"Sweden","year":2020,"rate":1127000},
      {"sex":"male","country":"Norway","year":2016,"rate":990000},{"sex":"male","country":"Norway","year":2017,"rate":780000},{"sex":"male","country":"Norway","year":2018,"rate":770000},{"sex":"male","country":"Norway","year":2019,"rate":760000},{"sex":"male","country":"Norway","year":2020,"rate":740000},
      {"sex":"male","country":"England & Wales","year":2016,"rate":910000},{"sex":"male","country":"England & Wales","year":2017,"rate":760000},{"sex":"male","country":"England & Wales","year":2018,"rate":610000},{"sex":"male","country":"England & Wales","year":2019,"rate":470000},{"sex":"male","country":"England & Wales","year":2020,"rate":348000},
      {"sex":"female","country":"USA","year":2016,"rate":1440000},{"sex":"female","country":"USA","year":2017,"rate":1440000},{"sex":"female","country":"USA","year":2018,"rate":1440000},{"sex":"female","country":"USA","year":2019,"rate":1440000},{"sex":"female","country":"USA","year":2020,"rate":1439000},
      {"sex":"female","country":"Scotland","year":2016,"rate":1210000},{"sex":"female","country":"Scotland","year":2017,"rate":1195000},{"sex":"female","country":"Scotland","year":2018,"rate":1195000},{"sex":"female","country":"Scotland","year":2019,"rate":1195000},{"sex":"female","country":"Scotland","year":2020,"rate":1190000},
      {"sex":"female","country":"Canada","year":2016,"rate":680000},{"sex":"female","country":"Canada","year":2017,"rate":680000},{"sex":"female","country":"Canada","year":2018,"rate":740000},{"sex":"female","country":"Canada","year":2019,"rate":830000},{"sex":"female","country":"Canada","year":2020,"rate":913000},
      {"sex":"female","country":"Norway","year":2016,"rate":620000},{"sex":"female","country":"Norway","year":2017,"rate":615000},{"sex":"female","country":"Norway","year":2018,"rate":615000},{"sex":"female","country":"Norway","year":2019,"rate":615000},{"sex":"female","country":"Norway","year":2020,"rate":687000},
      {"sex":"female","country":"Sweden","year":2016,"rate":610000},{"sex":"female","country":"Sweden","year":2017,"rate":530000},{"sex":"female","country":"Sweden","year":2018,"rate":470000},{"sex":"female","country":"Sweden","year":2019,"rate":460000},{"sex":"female","country":"Sweden","year":2020,"rate":460000},
      {"sex":"female","country":"England & Wales","year":2016,"rate":410000},{"sex":"female","country":"England & Wales","year":2017,"rate":330000},{"sex":"female","country":"England & Wales","year":2018,"rate":260000},{"sex":"female","country":"England & Wales","year":2019,"rate":245000},{"sex":"female","country":"England & Wales","year":2020,"rate":234000}
    ]
  },
  "hconcat": [
    {
      "width": 297,
      "height": 414,
      "title": {"text": "Sex: male", "subtitle": "Cause: drugs"},
      "encoding": {
        "x": {"field": "year", "type": "quantitative", "scale": {"domain": [1993.55, 2020], "nice": false, "zero": false}, "axis": {"values": [1995, 2000, 2005, 2010, 2015, 2020], "format": "d", "title": "Year", "labelPadding": 8, "titlePadding": 4}},
        "y": {"field": "rate", "type": "quantitative", "scale": {"domain": [-385000, 4800000], "nice": false, "zero": false}, "axis": {"values": [0, 900000, 1800000, 2700000, 3600000, 4500000], "labelExpr": "format(datum.value / 100000, 'd') + 'e+05'", "title": "Age standardized drugs Death Rate ->", "labelPadding": 9, "titlePadding": 8}}
      },
      "layer": [
        {"data": {"name": "others"}, "transform": [{"filter": "datum.sex === 'male'"}], "mark": {"type": "line", "color": "#d2d2d2", "strokeWidth": 1.6}, "encoding": {"detail": {"field": "group"}}},
        {"data": {"name": "band"}, "transform": [{"filter": "datum.sex === 'male'"}], "mark": {"type": "rect", "color": "#d3d3d3", "opacity": 0.92}, "encoding": {"x2": {"field": "year_end"}, "y2": {"field": "rate_top"}}},
        {"data": {"name": "baseline"}, "transform": [{"filter": "datum.sex === 'male'"}], "mark": {"type": "line", "color": "#a0a0a0", "strokeWidth": 2.2}, "encoding": {}},
        {"data": {"name": "marker"}, "transform": [{"filter": "datum.sex === 'male'"}], "mark": {"type": "rule", "color": "#555555", "strokeWidth": 1.8, "strokeDash": [2, 9.7]}, "encoding": {"y2": {"field": "rate_top"}}},
        {"data": {"name": "marker"}, "transform": [{"filter": "datum.sex === 'male'"}], "mark": {"type": "text", "fontSize": 9.5, "color": "#666666", "align": "left", "baseline": "middle", "dx": 2}, "encoding": {"y": {"field": "note_rate", "type": "quantitative"}, "text": {"field": "note"}}},
        {"data": {"name": "projected"}, "transform": [{"filter": "datum.sex === 'male'"}], "mark": {"type": "line", "strokeWidth": 1.9, "strokeDash": [5, 4], "opacity": 0.65}, "encoding": {"color": {"field": "country", "type": "nominal", "legend": null, "scale": {"domain": ["Canada", "England & Wales", "Norway", "Scotland", "Sweden", "USA"], "range": ["#F8766D", "#B79F00", "#00BA38", "#00BFC4", "#619CFF", "#F564E3"]}}}},
        {"data": {"name": "rates"}, "transform": [{"filter": "datum.sex === 'male'"}], "mark": {"type": "line", "strokeWidth": 2.9}, "encoding": {"color": {"field": "country", "type": "nominal", "legend": null}}},
        {"data": {"name": "projected"}, "transform": [{"filter": "datum.sex === 'male' && datum.year === 2020"}], "mark": {"type": "text", "fontSize": 15.5, "fontWeight": "bold", "align": "left", "baseline": "middle", "dx": 9, "limit": 80, "ellipsis": "\u200b"}, "encoding": {"text": {"field": "country"}, "color": {"field": "country", "type": "nominal", "legend": null}}}
      ]
    },
    {
      "width": 297,
      "height": 414,
      "title": {"text": "Sex: female", "subtitle": "Cause: drugs"},
      "encoding": {
        "x": {"field": "year", "type": "quantitative", "scale": {"domain": [1993.55, 2020], "nice": false, "zero": false}, "axis": {"values": [1995, 2000, 2005, 2010, 2015, 2020], "format": "d", "title": "Year", "labelPadding": 8, "titlePadding": 4}},
        "y": {"field": "rate", "type": "quantitative", "scale": {"domain": [-224000, 2800000], "nice": false, "zero": false}, "axis": {"values": [0, 500000, 1000000, 1500000, 2000000, 2500000], "labelExpr": "format(datum.value / 100000, 'd') + 'e+05'", "title": "Age standardized drugs Death Rate ->", "labelPadding": 9, "titlePadding": 8}}
      },
      "layer": [
        {"data": {"name": "others"}, "transform": [{"filter": "datum.sex === 'female'"}], "mark": {"type": "line", "color": "#d2d2d2", "strokeWidth": 1.6}, "encoding": {"detail": {"field": "group"}}},
        {"data": {"name": "band"}, "transform": [{"filter": "datum.sex === 'female'"}], "mark": {"type": "rect", "color": "#d3d3d3", "opacity": 0.92}, "encoding": {"x2": {"field": "year_end"}, "y2": {"field": "rate_top"}}},
        {"data": {"name": "baseline"}, "transform": [{"filter": "datum.sex === 'female'"}], "mark": {"type": "line", "color": "#a0a0a0", "strokeWidth": 2.2}, "encoding": {}},
        {"data": {"name": "marker"}, "transform": [{"filter": "datum.sex === 'female'"}], "mark": {"type": "rule", "color": "#555555", "strokeWidth": 1.8, "strokeDash": [2, 9.7]}, "encoding": {"y2": {"field": "rate_top"}}},
        {"data": {"name": "marker"}, "transform": [{"filter": "datum.sex === 'female'"}], "mark": {"type": "text", "fontSize": 9.5, "color": "#666666", "align": "left", "baseline": "middle", "dx": 2}, "encoding": {"y": {"field": "note_rate", "type": "quantitative"}, "text": {"field": "note"}}},
        {"data": {"name": "projected"}, "transform": [{"filter": "datum.sex === 'female'"}], "mark": {"type": "line", "strokeWidth": 1.9, "strokeDash": [5, 4], "opacity": 0.65}, "encoding": {"color": {"field": "country", "type": "nominal", "legend": null, "scale": {"domain": ["Canada", "England & Wales", "Norway", "Scotland", "Sweden", "USA"], "range": ["#F8766D", "#B79F00", "#00BA38", "#00BFC4", "#619CFF", "#F564E3"]}}}},
        {"data": {"name": "rates"}, "transform": [{"filter": "datum.sex === 'female'"}], "mark": {"type": "line", "strokeWidth": 2.9}, "encoding": {"color": {"field": "country", "type": "nominal", "legend": null}}},
        {"data": {"name": "projected"}, "transform": [{"filter": "datum.sex === 'female' && datum.year === 2020"}], "mark": {"type": "text", "fontSize": 15.5, "fontWeight": "bold", "align": "left", "baseline": "middle", "dx": 10}, "encoding": {"text": {"field": "country"}, "color": {"field": "country", "type": "nominal", "legend": null}}}
      ]
    }
  ]
}
